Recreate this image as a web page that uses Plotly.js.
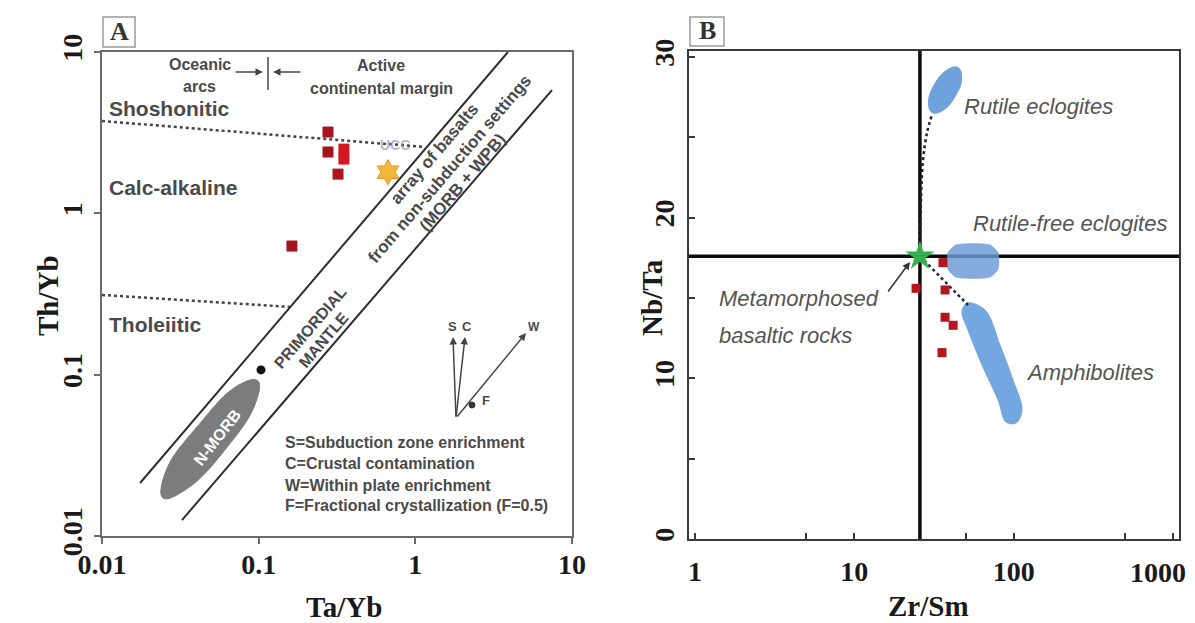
<!DOCTYPE html>
<html><head><meta charset="utf-8">
<script src="https://cdn.plot.ly/plotly-3.0.1.min.js"></script>
<style>html,body{margin:0;padding:0;background:#fff;} #chart{width:1195px;height:623px;}</style>
</head><body><div id="chart"></div>
<script>
// ---------------- Panel A : Th/Yb vs Ta/Yb ----------------
const sampleTaYb = [0.277, 0.277, 0.350, 0.350, 0.321, 0.163];
const sampleThYb = [3.19, 2.40, 2.50, 2.17, 1.75, 0.627];
const uccTaYb = [0.669];
const uccThYb = [1.80];
const primMantleTaYb = [0.1035];
const primMantleThYb = [0.107];
const arrayUpperTaYb = [0.0175, 3.90];
const arrayUpperThYb = [0.0213, 10];
const arrayLowerTaYb = [0.0324, 7.45];
const arrayLowerThYb = [0.01256, 5.81];
const shoshoBoundTaYb = [0.01, 1.153];
const shoshoBoundThYb = [3.735, 2.577];
const tholBoundTaYb = [0.01, 0.158];
const tholBoundThYb = [0.312, 0.263];
const nmorbTaYb = [0.0986, 0.0957, 0.0617, 0.0348, 0.0245, 0.0256, 0.0415, 0.0734, 0.0986];
const nmorbThYb = [0.0918, 0.0670, 0.0347, 0.0196, 0.0172, 0.0253, 0.0489, 0.0855, 0.0918];
const xTicksA = [0.01, 0.1, 1, 10];
const xTickTextA = ['0.01', '0.1', '1', '10'];
const yTicksA = [0.01, 0.1, 1, 10];
const yTickTextA = ['0.01', '0.1', '1', '10'];

// ---------------- Panel B : Nb/Ta vs Zr/Sm ----------------
const sampleZrSm = [36.0, 24.4, 37.1, 37.1, 41.7, 35.5];
const sampleNbTa = [17.2, 15.6, 15.5, 13.8, 13.3, 11.6];
const refZrSm = 25.8;
const refNbTa = 17.6;
const rutileZrSm = [44.8, 47.2, 43.1, 36.1, 30.7, 29.2, 31.9, 38.1, 44.8];
const rutileNbTa = [29.34, 28.67, 27.57, 26.68, 26.54, 27.21, 28.31, 29.19, 29.34];
const rutileFreeZrSm = [43.5, 71.1, 79.8, 79.8, 71.1, 43.5, 38.7, 38.7, 43.5];
const rutileFreeNbTa = [18.30, 18.30, 17.80, 16.80, 16.30, 16.30, 16.80, 17.80, 18.30];
const amphZrSm = [51.0, 66.1, 82.1, 99.1, 112.9, 103.5, 89.6, 79.8, 63.3, 51.7, 47.4, 51.0];
const amphNbTa = [14.69, 14.25, 12.07, 9.89, 8.03, 7.22, 7.28, 8.65, 10.83, 13.0, 14.13, 14.69];
const trendRutileZrSm = [25.8, 26.2, 27.0, 28.6, 30.7];
const trendRutileNbTa = [17.6, 21.1, 23.6, 25.3, 26.4];
const trendAmphZrSm = [25.8, 51.7];
const trendAmphNbTa = [17.6, 14.56];
const xTicksB = [1, 5, 10, 50, 100, 500, 1000];
const xTickTextB = ['1', '', '10', '', '100', '', ''];   // "1000" drawn as a label kept inside the page edge
const lastTickLabelB = '1000';
const yTicksB = [0, 5, 10, 15, 20, 25, 30];
const yTickTextB = ['0', '', '10', '', '20', '', '30'];

const W = 1195, H = 623;
const px = v => v / W;
const py = v => 1 - v / H;

const A = {xaxis: 'x', yaxis: 'y'};
const B = {xaxis: 'x2', yaxis: 'y2'};
const noHover = {hoverinfo: 'skip', showlegend: false};

const traces = [
  // Panel A
  {...A, ...noHover, x: arrayUpperTaYb, y: arrayUpperThYb, mode: 'lines', line: {color: '#2e2e2e', width: 2}},
  {...A, ...noHover, x: arrayLowerTaYb, y: arrayLowerThYb, mode: 'lines', line: {color: '#2e2e2e', width: 2}},
  {...A, ...noHover, x: shoshoBoundTaYb, y: shoshoBoundThYb, mode: 'lines', line: {color: '#444', width: 2.5, dash: 'dot'}},
  {...A, ...noHover, x: tholBoundTaYb, y: tholBoundThYb, mode: 'lines', line: {color: '#444', width: 2.5, dash: 'dot'}},
  {...A, ...noHover, x: nmorbTaYb, y: nmorbThYb, mode: 'lines', fill: 'toself', fillcolor: '#7c7c7c', line: {color: '#7c7c7c', width: 1, shape: 'spline', smoothing: 1.2}},
  {...A, ...noHover, x: primMantleTaYb, y: primMantleThYb, mode: 'markers', marker: {color: '#111', size: 9}},
  {...A, ...noHover, x: sampleTaYb, y: sampleThYb, mode: 'markers',
    marker: {symbol: 'square', size: 11, color: ['#a3141e', '#a3141e', '#d31820', '#d31820', '#b0141e', '#a3141e']}},
  {...A, ...noHover, x: uccTaYb, y: uccThYb, mode: 'markers',
    marker: {symbol: 'hexagram', size: 19, color: '#f4b63a', line: {color: '#e19a1e', width: 1}}},

  // Panel B
  {...B, ...noHover, x: [refZrSm, refZrSm], y: [0, 31], mode: 'lines', line: {color: '#0c0c0c', width: 3.5}},
  {...B, ...noHover, x: [0.5, 2000], y: [refNbTa, refNbTa], mode: 'lines', line: {color: '#0c0c0c', width: 3.5}},
  {...B, ...noHover, x: trendRutileZrSm, y: trendRutileNbTa, mode: 'lines', line: {color: '#222', width: 2.5, dash: 'dot', shape: 'spline'}},
  {...B, ...noHover, x: rutileZrSm, y: rutileNbTa, mode: 'lines', fill: 'toself', fillcolor: '#6fa2dc', line: {color: '#6fa2dc', width: 1, shape: 'spline', smoothing: 1.2}},
  {...B, ...noHover, x: rutileFreeZrSm, y: rutileFreeNbTa, mode: 'lines', fill: 'toself', fillcolor: 'rgba(106,154,214,0.82)', line: {color: 'rgba(106,154,214,0.6)', width: 1, shape: 'spline', smoothing: 0.6}},
  {...B, ...noHover, x: amphZrSm, y: amphNbTa, mode: 'lines', fill: 'toself', fillcolor: '#74a7df', line: {color: '#74a7df', width: 1, shape: 'spline', smoothing: 1.0}},
  {...B, ...noHover, x: trendAmphZrSm, y: trendAmphNbTa, mode: 'lines', line: {color: '#1f2a44', width: 2.5, dash: 'dot'}},
  {...B, ...noHover, x: sampleZrSm, y: sampleNbTa, mode: 'markers', marker: {symbol: 'square', size: 9, color: '#b3161e'}},
  {...B, ...noHover, x: [refZrSm], y: [refNbTa], mode: 'markers', marker: {symbol: 'star', size: 22, color: '#33b04c'}}
];

const tickFont = {family: 'Liberation Serif', size: 28, color: '#1a1a1a', weight: 'bold'};
const axA = {showgrid: false, zeroline: false, showline: true, mirror: true, linecolor: '#6b6b6b', linewidth: 2,
  ticks: 'outside', ticklen: 6, tickwidth: 2, tickcolor: '#6b6b6b', tickfont: tickFont, tickmode: 'array'};
const axB = {showgrid: false, zeroline: false, showline: true, mirror: true, linecolor: '#3a3a3a', linewidth: 2,
  ticks: 'inside', ticklen: 6, tickwidth: 2, tickcolor: '#3a3a3a', tickfont: tickFont, tickmode: 'array'};

function ann(xp, yp, text, size, opts) {
  return Object.assign({xref: 'paper', yref: 'paper', x: px(xp), y: py(yp), text: text, showarrow: false,
    xanchor: 'center', yanchor: 'middle', font: {family: 'Liberation Sans', size: size, color: '#4a4a4a'}}, opts || {});
}
function arrow(tipX, tipY, tailX, tailY, color) {
  return {xref: 'paper', yref: 'paper', x: px(tipX), y: py(tipY), ax: tailX - tipX, ay: tailY - tipY,
    text: '', showarrow: true, arrowhead: 2, arrowsize: 1, arrowwidth: 1.5, arrowcolor: color || '#444'};
}

const rot = -49.5;
const annotations = [
  // Panel A labels
  ann(200, 64, '<b>Oceanic</b>', 16),
  ann(199, 87, '<b>arcs</b>', 16),
  ann(381, 65, '<b>Active</b>', 16),
  ann(381, 88, '<b>continental margin</b>', 16),
  arrow(263, 72, 234, 72),
  arrow(273, 72, 302, 72),
  ann(107, 108, '<b>Shoshonitic</b>', 21, {xanchor: 'left'}),
  ann(107, 187, '<b>Calc-alkaline</b>', 21, {xanchor: 'left'}),
  ann(107, 324, '<b>Tholeiitic</b>', 21, {xanchor: 'left'}),
  ann(435, 154, '<b>array of basalts</b>', 17, {textangle: rot}),
  ann(449, 169, '<b>from non-subduction settings</b>', 17, {textangle: rot}),
  ann(463, 183, '<b>(MORB + WPB)</b>', 17, {textangle: rot}),
  ann(310, 327, '<b>PRIMORDIAL</b>', 16, {textangle: rot}),
  ann(323, 340, '<b>MANTLE</b>', 16, {textangle: rot}),
  ann(217, 437, '<b>N-MORB</b>', 16, {textangle: -52, font: {family: 'Liberation Sans', size: 16, color: '#ffffff'}}),
  ann(395, 145, '<b>UCC</b>', 14, {font: {family: 'Liberation Sans', size: 14, color: 'rgba(170,150,205,0.75)'}}),
  arrow(453, 337, 456, 418),
  arrow(465, 337, 456, 418),
  arrow(526, 333, 456, 418),
  ann(452, 326, '<b>S</b>', 13),
  ann(467, 326, '<b>C</b>', 13),
  ann(534, 327, '<b>W</b>', 12),
  ann(486, 400, '<b>F</b>', 13),
  ann(283, 442, '<b>S=Subduction zone enrichment</b>', 16, {xanchor: 'left'}),
  ann(283, 463, '<b>C=Crustal contamination</b>', 16, {xanchor: 'left'}),
  ann(283, 485, '<b>W=Within plate enrichment</b>', 16, {xanchor: 'left'}),
  ann(283, 506, '<b>F=Fractional crystallization (F=0.5)</b>', 16, {xanchor: 'left'}),
  ann(119, 32, '<b>A</b>', 26, {font: {family: 'Liberation Serif', size: 26, color: '#333'}}),
  // Axis titles
  ann(344, 607, '<b>Ta/Yb</b>', 29, {font: {family: 'Liberation Serif', size: 29, color: '#1a1a1a'}}),
  ann(48, 296, '<b>Th/Yb</b>', 29, {textangle: -90, font: {family: 'Liberation Serif', size: 29, color: '#1a1a1a'}}),
  ann(928, 606, '<b>Zr/Sm</b>', 29, {font: {family: 'Liberation Serif', size: 29, color: '#1a1a1a'}}),
  ann(652, 298, '<b>Nb/Ta</b>', 29, {textangle: -90, font: {family: 'Liberation Serif', size: 29, color: '#1a1a1a'}}),
  ann(1158, 572, '<b>' + lastTickLabelB + '</b>', 28, {font: {family: 'Liberation Serif', size: 28, color: '#1a1a1a'}}),
  // Panel B labels
  ann(1038, 107, '<i>Rutile eclogites</i>', 22, {font: {family: 'Liberation Sans', size: 22, color: '#555'}}),
  ann(1070, 223, '<i>Rutile-free eclogites</i>', 22, {font: {family: 'Liberation Sans', size: 22, color: '#555'}}),
  ann(717, 298, '<i>Metamorphosed</i>', 22, {xanchor: 'left', font: {family: 'Liberation Sans', size: 22, color: '#555'}}),
  ann(717, 335, '<i>basaltic rocks</i>', 22, {xanchor: 'left', font: {family: 'Liberation Sans', size: 22, color: '#555'}}),
  ann(1090, 372, '<i>Amphibolites</i>', 22, {font: {family: 'Liberation Sans', size: 22, color: '#555'}}),
  arrow(910, 262, 887, 293, '#333'),
  ann(707, 31, '<b>B</b>', 26, {font: {family: 'Liberation Serif', size: 26, color: '#333'}})
];

const shapes = [
  {type: 'line', xref: 'paper', yref: 'paper', x0: px(268), x1: px(268), y0: py(57), y1: py(90), line: {color: '#444', width: 1.5}},
  {type: 'circle', xref: 'paper', yref: 'paper', x0: px(469), x1: px(475), y0: py(402), y1: py(408), fillcolor: '#333', line: {color: '#333', width: 1}},
  {type: 'rect', xref: 'paper', yref: 'paper', x0: px(103), x1: px(135), y0: py(47), y1: py(17), line: {color: '#9a9a9a', width: 1.5}},
  {type: 'rect', xref: 'paper', yref: 'paper', x0: px(690), x1: px(724), y0: py(46), y1: py(17), line: {color: '#9a9a9a', width: 1.5}}
];

const layout = {
  width: W, height: H,
  margin: {l: 0, r: 0, t: 0, b: 0},
  paper_bgcolor: '#ffffff', plot_bgcolor: '#ffffff',
  showlegend: false,
  xaxis: Object.assign({}, axA, {type: 'log', range: [-2, 1], domain: [px(102), px(572)], anchor: 'y',
    tickvals: xTicksA, ticktext: xTickTextA, ticklabelstandoff: -4}),
  yaxis: Object.assign({}, axA, {type: 'log', range: [-2, 1], domain: [py(536), py(52)], anchor: 'x',
    tickvals: yTicksA, ticktext: yTickTextA, tickangle: -90, ticklabelstandoff: 1}),
  xaxis2: Object.assign({}, axB, {type: 'log', range: [-0.038, 3.038], domain: [px(689), px(1179)], anchor: 'y2',
    tickvals: xTicksB, ticktext: xTickTextB, ticklabelstandoff: 6}),
  yaxis2: Object.assign({}, axB, {range: [0, 30.37], domain: [py(539), py(51)], anchor: 'x2',
    tickvals: yTicksB, ticktext: yTickTextB, tickangle: -90, ticklabelstandoff: 2}),
  annotations: annotations,
  shapes: shapes
};

Plotly.newPlot('chart', traces, layout, {displayModeBar: false, staticPlot: true});
</script>
</body></html>
